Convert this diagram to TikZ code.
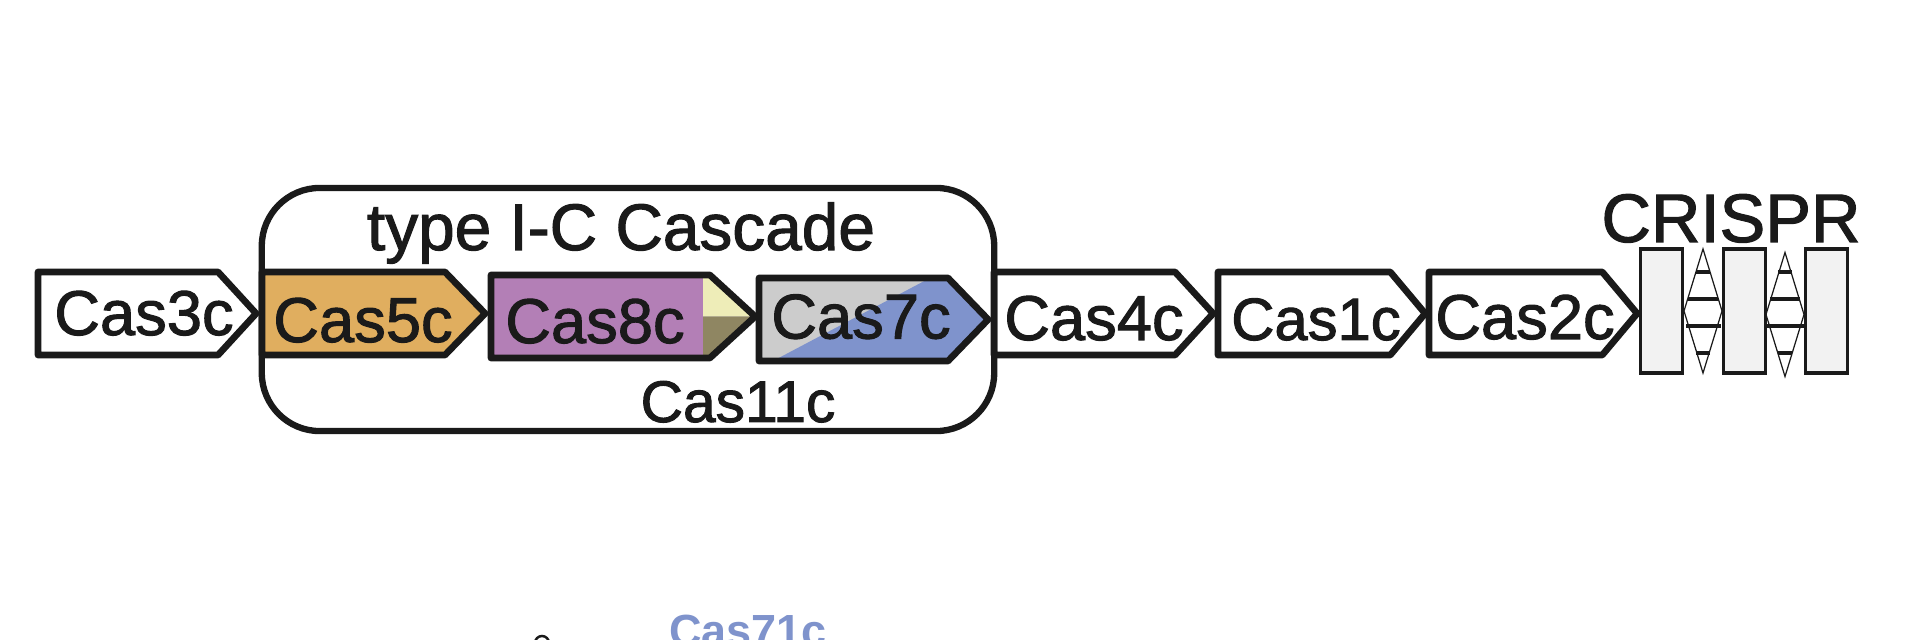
\documentclass[tikz,border=0pt]{standalone}
\usepackage{fontspec}
\setmainfont{Liberation Sans}
\newfontfamily\genefont{Liberation Sans}[RawFeature={embolden=1.6}]
\usetikzlibrary{shapes,positioning}
\definecolor{inkdark}{HTML}{1A1A1A}
\definecolor{cfive}{HTML}{E0AE5F}
\definecolor{ceight}{HTML}{B37FB6}
\definecolor{ccream}{HTML}{EEEDB8}
\definecolor{colive}{HTML}{8F8662}
\definecolor{cgrey}{HTML}{CCCCCC}
\definecolor{cseven}{HTML}{7F93CC}
\definecolor{crepeat}{HTML}{F2F2F2}
\tikzset{
  gene/.style={signal, signal to=east, signal pointer angle=95, draw=inkdark, line width=1.9pt,
    line join=round, minimum height=0.83cm, inner sep=0pt, outer sep=0pt, anchor=west},
  genetxt/.style={anchor=base, inner sep=0pt, text=inkdark, font=\genefont\fontsize{18}{18}\selectfont},
  repeatbox/.style={rectangle, draw=inkdark, line width=1pt, fill=crepeat, minimum width=0.42cm,
    minimum height=1.24cm, inner sep=0pt, outer sep=0pt},
  spacer/.style={diamond, draw=inkdark, line width=0.35pt, minimum width=0.38cm, minimum height=1.24cm,
    aspect=0.3, inner sep=0pt, outer sep=0pt},
  tick/.style={draw=inkdark, line width=1pt}
}
\begin{document}
\begin{tikzpicture}[x=0.01cm,y=-0.01cm]
\clip (0,0) rectangle (1920,640);
\fill[white] (0,0) rectangle (1920,640);

\node[rectangle, rounded corners=0.58cm, draw=inkdark, line width=1.8pt, minimum width=7.32cm,
  minimum height=2.43cm, inner sep=0pt, outer sep=0pt] (cascade) at (628,309.5) {};
\node[genetxt, font=\genefont\fontsize{18.7}{18.7}\selectfont] (cascadetxt) at (621,250) {type I-C Cascade};
\node[genetxt, font=\genefont\fontsize{16.7}{16.7}\selectfont] (cas11) at (738,422) {Cas11c};

% colour parts under the outlines
\fill[ceight] (491,275) rectangle (703,358);
\fill[ccream] (703,275) -- (710,275) -- (755,316.5) -- (703,316.5) -- cycle;
\fill[colive] (703,316.5) -- (755,316.5) -- (710,358) -- (703,358) -- cycle;
\fill[cgrey] (759,278) rectangle (950,361);
\fill[cseven] (773,361) -- (930,278) -- (948,278) -- (988,319.5) -- (948,361) -- cycle;

\node[gene, minimum width=2.18cm] (cas3) at (38,313.5) {};
\node[gene, fill=cfive, signal pointer angle=92, minimum width=2.23cm] (cas5) at (262,313.5) {};
\node[gene, signal pointer angle=85, minimum width=2.64cm] (cas8) at (491,316.5) {};
\node[gene, signal pointer angle=92, minimum width=2.29cm] (cas7) at (759,319.5) {};
\node[gene, minimum width=2.19cm] (cas4) at (994,313.5) {};
\node[gene, signal pointer angle=100, minimum width=2.07cm] (cas1) at (1218,313.5) {};
\node[gene, signal pointer angle=100, minimum width=2.08cm] (cas2) at (1429,313.5) {};

\node[genetxt] (cas3txt) at (144,335) {Cas3c};
\node[genetxt] (cas5txt) at (363,342) {Cas5c};
\node[genetxt] (cas8txt) at (595,343) {Cas8c};
\node[genetxt] (cas7txt) at (861,338.5) {Cas7c};
\node[genetxt] (cas4txt) at (1094,340) {Cas4c};
\node[genetxt, font=\genefont\fontsize{17}{17}\selectfont] (cas1txt) at (1316,340) {Cas1c};
\node[genetxt] (cas2txt) at (1525,339) {Cas2c};

\node[genetxt, font=\genefont\fontsize{19.5}{19.5}\selectfont] (crispr) at (1731,242) {CRISPR};
\node[repeatbox] (rep1) at (1661.5,311) {};
\node[repeatbox] (rep2) at (1744.5,311) {};
\node[repeatbox] (rep3) at (1826.5,311) {};
\node[spacer] (spc1) at (1703,311) {};
\node[spacer] (spc2) at (1785,314.5) {};
\draw[tick] (1696,272) -- (1710,272);
\draw[tick] (1688,299) -- (1718,299);
\draw[tick] (1686,326) -- (1721,326);
\draw[tick] (1696,353) -- (1710,353);
\draw[tick] (1778,272) -- (1792,272);
\draw[tick] (1770,299) -- (1800,299);
\draw[tick] (1766,326) -- (1805,326);
\draw[tick] (1778,353) -- (1792,353);

\node[anchor=base, inner sep=0pt, text=cseven, font=\fontsize{12.8}{12.8}\selectfont\bfseries] (cas71) at (748,647) {Cas71c};
\draw[inkdark, line width=0.7pt] (535,643) arc[start angle=180, end angle=360, radius=7];
\end{tikzpicture}
\end{document}
